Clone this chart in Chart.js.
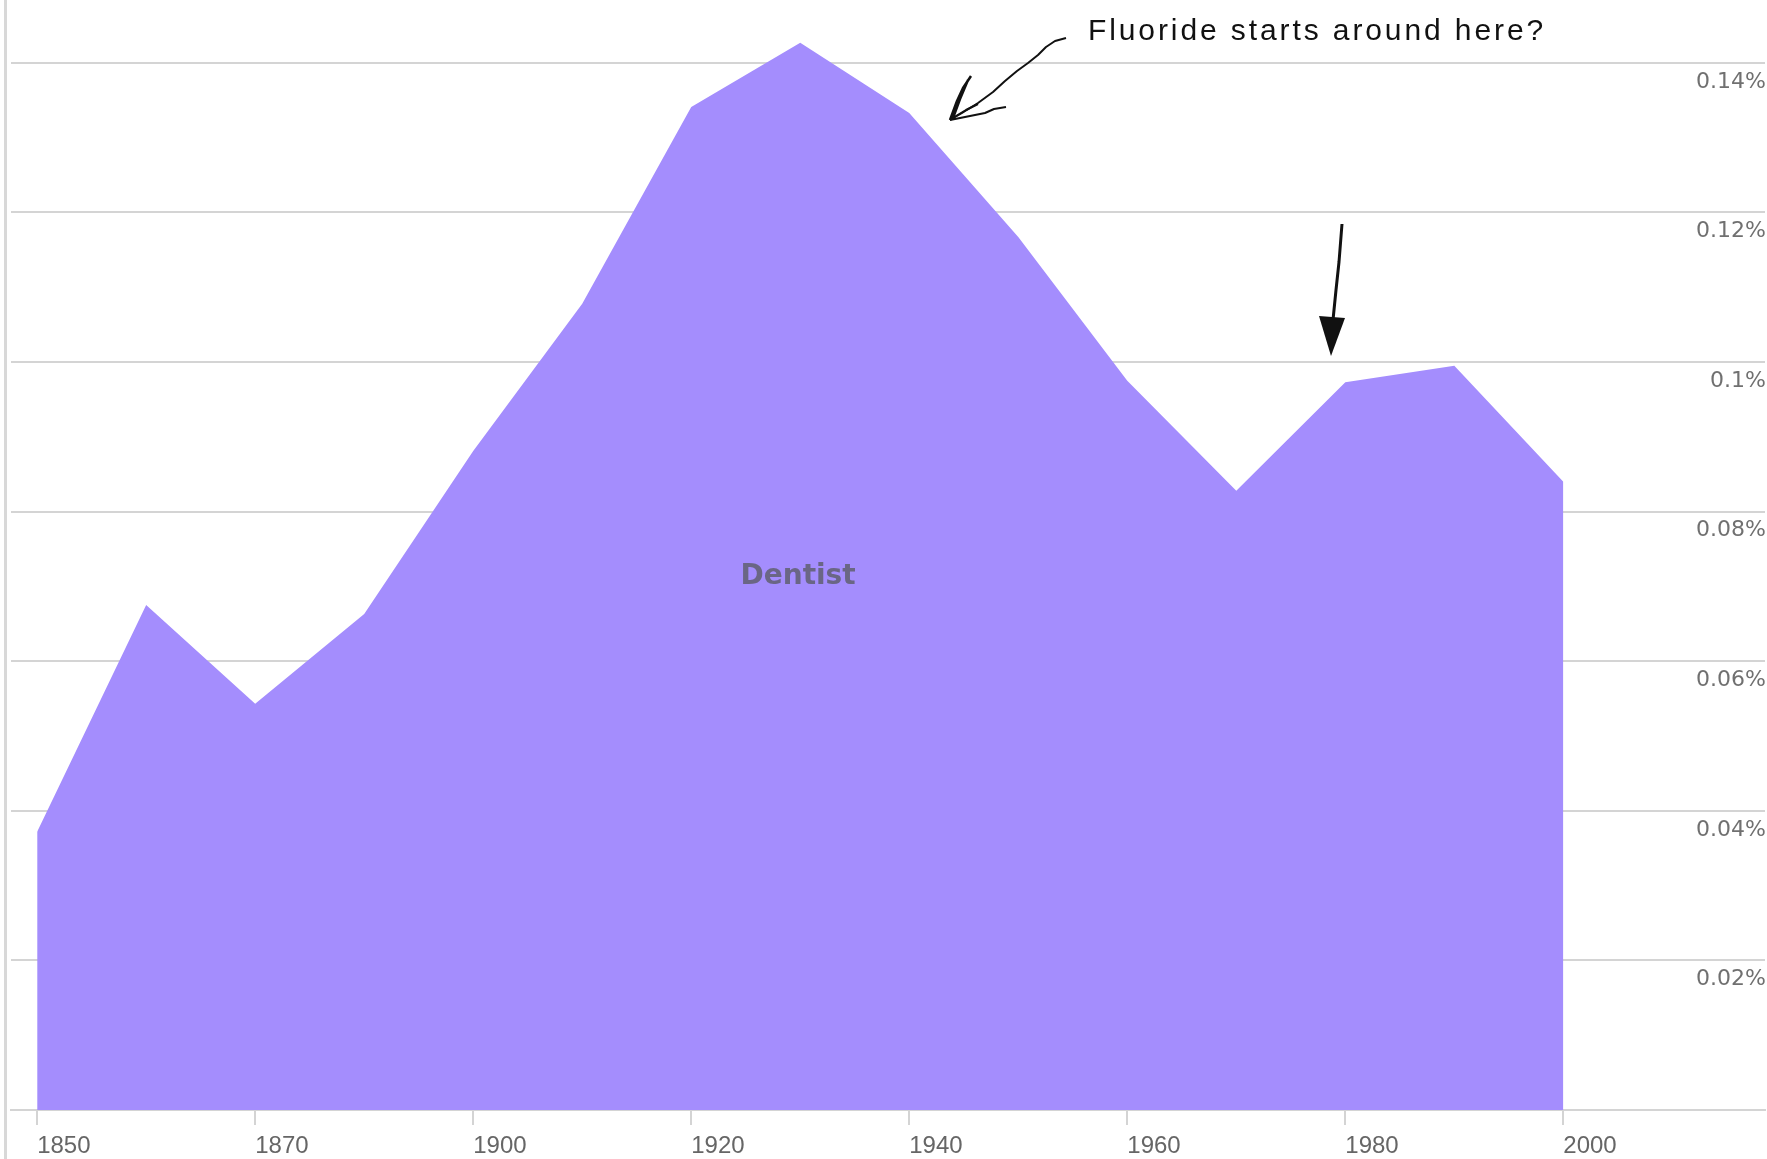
<!DOCTYPE html>
<html>
<head>
<meta charset="utf-8">
<script src="https://cdn.jsdelivr.net/npm/chart.js@4.4.1/dist/chart.umd.min.js"></script>
<style>
  html, body { margin: 0; padding: 0; background: #fff; overflow: hidden; }
</style>
</head>
<body>
<canvas id="chart" width="1767" height="1159"></canvas>
<script>
// decades on the x axis (one point per category, every other one labelled)
const years = ['1850', '1860', '1870', '1880', '1900', '1910', '1920', '1930',
               '1940', '1950', '1960', '1970', '1980', '1990', '2000'];
// share of words, in percent
const dentist = [0.0372, 0.0675, 0.0543, 0.0663, 0.0881, 0.1078, 0.1341, 0.1427,
                 0.1333, 0.1167, 0.0975, 0.0828, 0.0973, 0.0995, 0.0840];
const xTickIdx = [0, 2, 4, 6, 8, 10, 12, 14];
const yTicks = [0, 0.02, 0.04, 0.06, 0.08, 0.1, 0.12, 0.14];
const seriesName = 'Dentist';
const note = 'Fluoride starts around here?';

const GRID = '#d4d4d4';

const decor = {
  id: 'decor',
  beforeDraw(chart) {
    const ctx = chart.ctx;
    ctx.save();
    ctx.fillStyle = '#d8d8d8';
    ctx.fillRect(4, 0, 3, chart.height);
    ctx.restore();
  },
  afterDatasetsDraw(chart) {
    const ctx = chart.ctx;
    const x = chart.scales.x, y = chart.scales.y;
    ctx.save();

    // series name in the middle of the area
    ctx.font = 'bold 28px "DejaVu Sans"';
    ctx.fillStyle = '#6a6685';
    ctx.textAlign = 'center';
    ctx.textBaseline = 'middle';
    ctx.fillText(seriesName, x.getPixelForValue(6.98), y.getPixelForValue(0.0713));

    // hand written note
    ctx.font = '30px "Liberation Sans"';
    ctx.letterSpacing = '2.9px';
    ctx.fillStyle = '#111';
    ctx.textAlign = 'left';
    ctx.fillText(note, 1088, 32);
    ctx.letterSpacing = '0px';

    // scribbled arrow to the 1940 peak
    ctx.strokeStyle = '#111';
    ctx.lineWidth = 2;
    ctx.lineJoin = 'round';
    ctx.beginPath();
    ctx.moveTo(1066, 38);
    ctx.lineTo(1055, 41);
    ctx.lineTo(1046, 47);
    ctx.lineTo(1038, 55);
    ctx.lineTo(1028, 63);
    ctx.lineTo(1017, 71);
    ctx.lineTo(1005, 81);
    ctx.lineTo(993, 92);
    ctx.lineTo(978, 103);
    ctx.lineTo(962, 113);
    ctx.lineTo(950, 120);
    ctx.stroke();
    ctx.lineWidth = 2.5;
    ctx.beginPath();
    ctx.moveTo(950, 120);
    ctx.lineTo(957, 101);
    ctx.lineTo(963, 88);
    ctx.lineTo(971, 76);
    ctx.moveTo(953, 118);
    ctx.lineTo(960, 99);
    ctx.lineTo(968, 80);
    ctx.stroke();
    ctx.lineWidth = 2;
    ctx.beginPath();
    ctx.moveTo(950, 120);
    ctx.lineTo(970, 116);
    ctx.lineTo(985, 113);
    ctx.lineTo(994, 109);
    ctx.lineTo(1006, 107);
    ctx.moveTo(951, 119);
    ctx.lineTo(966, 110);
    ctx.lineTo(978, 104);
    ctx.stroke();

    // arrow to the 1980 bump
    ctx.lineWidth = 3;
    ctx.beginPath();
    ctx.moveTo(1342, 224);
    ctx.lineTo(1339, 262);
    ctx.lineTo(1336, 290);
    ctx.lineTo(1333, 320);
    ctx.stroke();
    ctx.fillStyle = '#111';
    ctx.beginPath();
    ctx.moveTo(1319, 316);
    ctx.lineTo(1345, 318);
    ctx.lineTo(1331, 356);
    ctx.closePath();
    ctx.fill();

    ctx.restore();
  }
};

new Chart(document.getElementById('chart'), {
  type: 'line',
  data: {
    datasets: [{
      label: seriesName,
      data: dentist.map((v, i) => ({ x: i, y: v })),
      fill: 'origin',
      backgroundColor: '#a48dfd',
      borderWidth: 0,
      pointRadius: 0,
      tension: 0
    }]
  },
  options: {
    responsive: false,
    animation: false,
    events: [],
    layout: { padding: { left: 11, right: 2, top: 3, bottom: 0 } },
    plugins: { legend: { display: false }, tooltip: { enabled: false } },
    scales: {
      x: {
        type: 'linear',
        min: -0.24,
        max: 15.85,
        afterBuildTicks: axis => { axis.ticks = xTickIdx.map(v => ({ value: v })); },
        afterFit: axis => { axis.paddingLeft = 0; axis.paddingRight = 0; axis.height = 49; },
        grid: { drawOnChartArea: false, drawTicks: true, tickLength: 15, color: GRID, lineWidth: 2 },
        border: { display: true, color: GRID, width: 2 },
        ticks: {
          autoSkip: false,
          maxRotation: 0,
          align: 'start',
          padding: 7,
          color: '#666',
          font: { family: '"Liberation Sans"', size: 24 },
          callback: v => years[v]
        }
      },
      y: {
        position: 'right',
        min: 0,
        max: 0.148,
        afterBuildTicks: axis => { axis.ticks = yTicks.map(v => ({ value: v })); },
        afterFit: axis => { axis.width = 0; axis.paddingTop = 0; axis.paddingBottom = 0; },
        grid: { drawTicks: false, color: GRID, lineWidth: 2 },
        border: { display: false },
        ticks: {
          mirror: true,
          padding: 1,
          labelOffset: 19,
          color: '#707070',
          font: { family: '"DejaVu Sans"', size: 22 },
          callback: v => v === 0 ? '' : (+v.toFixed(2)) + '%'
        }
      }
    }
  },
  plugins: [decor]
});
</script>
</body>
</html>
